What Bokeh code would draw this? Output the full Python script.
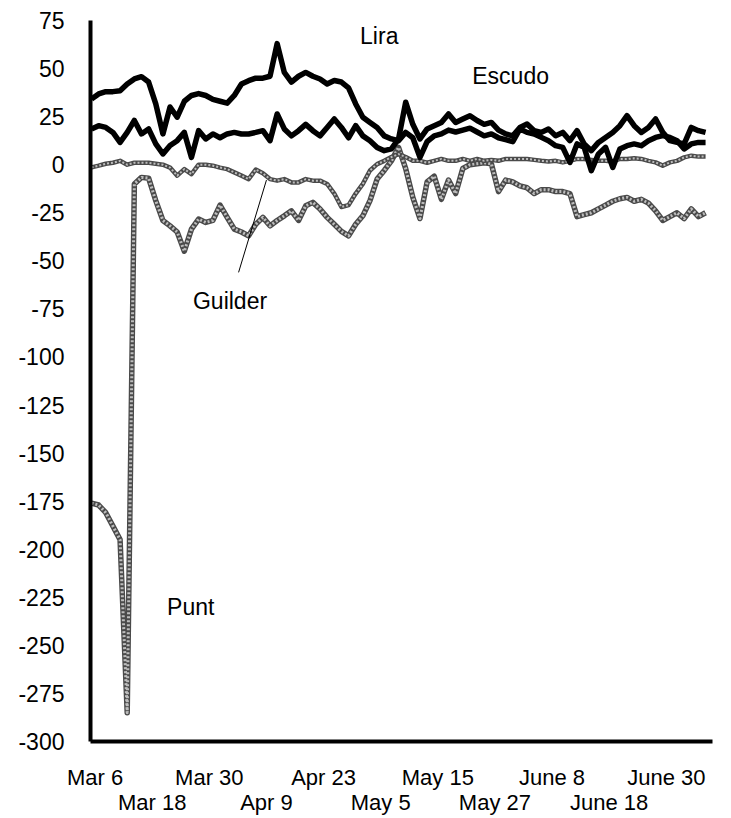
from bokeh.plotting import figure
from bokeh.models import Range1d, FixedTicker, LinearAxis, Label
from bokeh.core.properties import value
from bokeh.embed import file_html
from bokeh.resources import INLINE

# ---- data (index = trading-day position) ----
lira = [34.2, 36.8, 38, 38, 38.5, 42, 44.6, 45.8, 43, 31.6,
        16, 30, 24.7, 33, 36, 37, 36, 34, 33, 32,
        36, 42, 43.7, 45, 45, 46, 63, 48, 43, 46,
        48, 46, 44.6, 42, 43.8, 43, 40, 31.6, 24.7, 22,
        19.4, 15, 13.4, 12.5, 16.8, 14, 3.8, 12, 15, 16,
        18, 17, 18, 19, 17, 15, 16, 14, 13, 12,
        18.6, 16.8, 16, 14.2, 12.5, 9.9, 9, 1.2, 10.8, 9,
        -3.1, 5.6, 9, -1.4, 8.2, 9.9, 10.8, 9.9, 12.5, 14.2,
        15.1, 14.2, 12.5, 8.2, 10.8, 11.6, 11.6]

escudo = [18.6, 20.3, 19.4, 16.8, 11.6, 16.8, 23, 16, 18.6, 10.8,
          5.6, 10, 12.5, 16.8, 3.8, 17.7, 13.4, 16, 14, 16,
          16.8, 16, 16, 16.8, 17.7, 12.5, 26.4, 18.6, 15, 17.7,
          21, 17.7, 15, 19.4, 23.8, 19.4, 14, 20.3, 15, 12.5,
          9, 7.3, 8.2, 13.4, 32.5, 21, 13.4, 18.6, 20.3, 22,
          26.4, 22, 23.8, 25.5, 23, 21, 22, 18, 16, 15,
          19.4, 21.2, 17.7, 16.8, 18.6, 15.1, 16.8, 12.5, 17.7, 10.8,
          7.3, 11.6, 14.2, 16.8, 20.3, 25.5, 20.3, 16.8, 19.4, 23.8,
          16.8, 12.5, 11.6, 10.8, 19.4, 17.7, 16.8]

guilder = [-1.4, -0.5, 0.5, 1, 2, 0, 1, 1, 1, 0.5,
           0, -1.5, -5.7, -2.3, -4.9, 0, 0, -0.5, -1.5, -2.3,
           -4, -5.7, -7.5, -2.5, -4.5, -7.5, -8.3, -7.5, -9.2, -9.2,
           -7.5, -8.3, -8.3, -10, -15, -22, -21, -15, -10, -3,
           0.3, 2, 4, 5.5, 4, 2, 2, 1, 2, 3,
           2, 2, 3, 2, 3, 2, 2.5, 2, 3, 3,
           3, 3, 2.5, 2, 1.7, 2, 1.2, 2, 3, 3,
           2.5, 2, 2, 1.7, 3, 3, 3.3, 3, 2, 1.2,
           -0.5, 1.2, 2, 3.8, 4.7, 4.2, 4.2]

punt = [-176, -177, -181, -188, -195, -285, -10, -6.6, -7, -18.7,
        -29, -31.8, -35, -45, -33.5, -28.3, -30, -29, -21, -27.4,
        -33.5, -35, -37, -31, -27.4, -31.8, -29, -26.6, -24, -29,
        -21.4, -19.6, -23, -27.4, -31, -34.7, -37, -31, -26.6, -18.7,
        -7.5, -3, 2, 9, -2, -17, -28, -9, -6, -18,
        -8, -15, -2, 0, 0.5, 1, 0.5, -14, -8, -9,
        -11, -12, -15, -13, -13, -14, -14, -15, -27, -26,
        -25, -23, -21, -19, -17.7, -17, -19, -18, -20, -24,
        -29, -27, -25, -28, -23, -27, -25]

tick_pos_row1 = [0.5, 16.5, 32.5, 48.5, 64.5, 80.5]
tick_lab_row1 = ["Mar 6", "Mar 30", "Apr 23", "May 15", "June 8", "June 30"]
tick_pos_row2 = [8.5, 24.5, 40.5, 56.5, 72.5]
tick_lab_row2 = ["Mar 18", "Apr 9", "May 5", "May 27", "June 18"]
y_ticks = list(range(-300, 76, 25))
y_tick_labels = [str(t) for t in y_ticks]

# annotation placements
lira_lab = (40.3, 67)
escudo_lab = (58.7, 46)
guilder_lab = (19.4, -71)
punt_lab = (13.9, -230)
leader_from = (20.6, -56)
leader_to = (24.5, -8)

x = list(range(len(lira)))
FONT = "Liberation Sans"

p = figure(width=722, height=817, output_backend="svg", toolbar_location=None,
           x_range=Range1d(-0.14, 86.97), y_range=Range1d(-300, 75),
           min_border_left=90, min_border_right=10, min_border_top=20,
           min_border_bottom=0)
p.grid.visible = False
p.outline_line_color = None
p.background_fill_color = "white"
p.border_fill_color = "white"

# y axis
ya = p.yaxis[0]
ya.ticker = FixedTicker(ticks=y_ticks)
ya.major_label_overrides = {t: l for t, l in zip(y_ticks, y_tick_labels)}
ya.axis_line_width = 4
ya.axis_line_color = "black"
ya.major_tick_line_color = None
ya.minor_tick_line_color = None
ya.major_label_standoff = 20
ya.major_label_text_font = FONT
ya.major_label_text_font_size = "23px"
ya.major_label_text_color = "black"

# x axis row 1
xa = p.xaxis[0]
xa.ticker = FixedTicker(ticks=tick_pos_row1)
xa.major_label_overrides = {t: l for t, l in zip(tick_pos_row1, tick_lab_row1)}
xa.axis_line_width = 4
xa.axis_line_color = "black"
xa.major_tick_line_color = None
xa.minor_tick_line_color = None
xa.major_label_standoff = 17
xa.major_label_text_font = FONT
xa.major_label_text_font_size = "22px"
xa.major_label_text_color = "black"

# x axis row 2
xa2 = LinearAxis(ticker=FixedTicker(ticks=tick_pos_row2))
xa2.major_label_overrides = {t: l for t, l in zip(tick_pos_row2, tick_lab_row2)}
xa2.axis_line_color = None
xa2.major_tick_line_color = None
xa2.minor_tick_line_color = None
xa2.major_label_standoff = -9
xa2.major_label_text_font = FONT
xa2.major_label_text_font_size = "22px"
xa2.major_label_text_color = "black"
p.add_layout(xa2, "below")

# gray textured lines
for ser, w in ((punt, 5.5), (guilder, 4.5)):
    p.line(x, ser, line_color="#4a4a4a", line_width=w, line_join="round")
    p.line(x, ser, line_color="#bdbdbd", line_width=w - 2.5, line_dash="2 2",
           line_join="round")

# black lines
p.line(x, lira, line_color="black", line_width=5.5, line_join="round")
p.line(x, escudo, line_color="black", line_width=5.5, line_join="round")

# leader line for Guilder label
p.segment(x0=[leader_from[0]], y0=[leader_from[1]], x1=[leader_to[0]],
          y1=[leader_to[1]], line_color="black", line_width=1)

for txt, pos in (("Lira", lira_lab), ("Escudo", escudo_lab),
                 ("Guilder", guilder_lab), ("Punt", punt_lab)):
    p.add_layout(Label(x=pos[0], y=pos[1], text=txt, text_font=FONT,
                       text_font_size="23px", text_align="center",
                       text_baseline="middle", text_color="black"))

open("out.html", "w").write(file_html(p, INLINE))
